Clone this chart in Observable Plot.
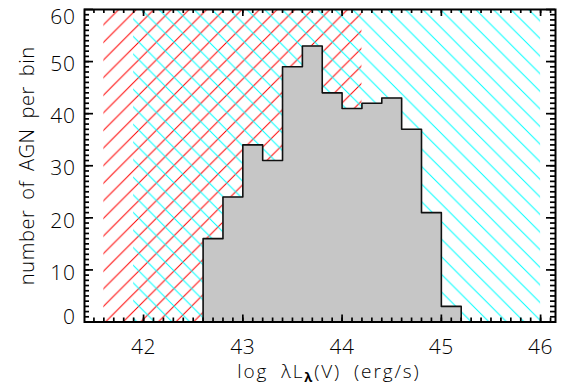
<!DOCTYPE html>
<html><head><meta charset="utf-8">
<script src="https://cdn.jsdelivr.net/npm/d3@7"></script>
<script src="https://cdn.jsdelivr.net/npm/@observablehq/plot@0.6"></script>
<style>html,body{margin:0;padding:0;background:#fff} svg{display:block}</style>
</head><body><div id="chart"></div>
<script>
// ---- data ----
const binStart = [42.6, 42.8, 43.0, 43.2, 43.4, 43.6, 43.8, 44.0, 44.2, 44.4, 44.6, 44.8, 45.0];
const binEnd   = [42.8, 43.0, 43.2, 43.4, 43.6, 43.8, 44.0, 44.2, 44.4, 44.6, 44.8, 45.0, 45.2];
const counts   = [16, 24, 34, 31, 49, 53, 44, 41, 42, 43, 37, 21, 3];
const redRange  = [41.6, 44.2];   // red "/" hatched band
const cyanRange = [41.9, 46.0];   // cyan "\" hatched band
const xTickLabels = [42, 43, 44, 45, 46];
const yTickLabels = [0, 10, 20, 30, 40, 50, 60];
const xMinorTicks = d3.range(415, 462).map(d => d / 10);
const yMinorTicks = d3.range(1, 60);
const xLabelParts = ["log λL", "λ", "(V) (erg/s)"];
const yLabel = "number of AGN per bin";

// ---- layout ----
const W = 563, H = 388, mL = 84, mR = 8, mT = 9, mB = 66.5;
const fh = H - mT - mB, fw = W - mL - mR;
const font = "'Open Sans', 'DejaVu Sans', sans-serif";

const bins = binStart.map((s, i) => ({x1: s, x2: binEnd[i], n: counts[i]}));
const outline = [{x: binStart[0], y: 0}];
bins.forEach(b => { outline.push({x: b.x1, y: b.n}, {x: b.x2, y: b.n}); });
outline.push({x: binEnd[binEnd.length - 1], y: 0});

const tickStroke = {stroke: "#000", strokeWidth: 1.7};
const txt = {fontFamily: font, fontSize: 21, fontWeight: 300, fill: "#000"};

const svg = Plot.plot({
  width: W, height: H,
  marginLeft: mL, marginRight: mR, marginTop: mT, marginBottom: mB,
  x: {domain: [41.405, 46.15], axis: null},
  y: {domain: [0, 60], axis: null},
  style: {background: "#fff", overflow: "visible", letterSpacing: "0.6px", wordSpacing: "4px"},
  marks: [
    Plot.rect([{a: redRange[0], b: redRange[1]}], {x1: "a", x2: "b", y1: 0, y2: 60, fill: "url(#hatchRed)"}),
    Plot.rect([{a: cyanRange[0], b: cyanRange[1]}], {x1: "a", x2: "b", y1: 0, y2: 60, fill: "url(#hatchCyan)"}),
    Plot.area(outline, {x1: "x", y1: 0, y2: "y", fill: "#c6c6c6"}),
    Plot.line(outline, {x: "x", y: "y", stroke: "#111", strokeWidth: 1.6}),
    // ticks (inward, all four sides)
    Plot.tickX(xMinorTicks, {x: d => d, insetTop: fh - 4, ...tickStroke}),
    Plot.tickX(xMinorTicks, {x: d => d, insetBottom: fh - 4, ...tickStroke}),
    Plot.tickX(xTickLabels, {x: d => d, insetTop: fh - 7, ...tickStroke}),
    Plot.tickX(xTickLabels, {x: d => d, insetBottom: fh - 7, ...tickStroke}),
    Plot.tickY(yMinorTicks, {y: d => d, insetRight: fw - 5, ...tickStroke}),
    Plot.tickY(yMinorTicks, {y: d => d, insetLeft: fw - 5, ...tickStroke}),
    Plot.tickY(yTickLabels, {y: d => d, insetRight: fw - 9, ...tickStroke}),
    Plot.tickY(yTickLabels, {y: d => d, insetLeft: fw - 9, ...tickStroke}),
    Plot.frame({stroke: "#000", strokeWidth: 2}),
    // tick labels
    Plot.text(xTickLabels, {x: d => d, frameAnchor: "bottom", lineAnchor: "top", dy: 17, text: d => String(d), ...txt}),
    Plot.text(yTickLabels.filter((d, i) => i > 0 && i < yTickLabels.length - 1), {y: d => d, frameAnchor: "left", textAnchor: "end", dx: -9, dy: 3, text: d => String(d), ...txt}),
    Plot.text(yTickLabels.slice(0, 1), {y: d => d, frameAnchor: "left", textAnchor: "end", dx: -9, dy: -5, text: d => String(d), ...txt}),
    Plot.text(yTickLabels.slice(-1), {y: d => d, frameAnchor: "left", textAnchor: "end", dx: -9, dy: 8, text: d => String(d), ...txt}),
    // axis titles
    Plot.text([xLabelParts.join("")], {frameAnchor: "bottom", lineAnchor: "bottom", textAnchor: "middle", dy: 56, dx: 9, text: d => d, ...txt, fontSize: 19}),
    Plot.text([yLabel], {frameAnchor: "left", rotate: -90, lineAnchor: "bottom", textAnchor: "middle", dx: -50.5, text: d => d, ...txt, fontSize: 20})
  ]
});

// hatch patterns
const S = 17.6;
const defs = d3.select(svg).insert("defs", ":first-child");
function hatch(id, color, d, shift) {
  const p = defs.append("pattern").attr("id", id)
    .attr("patternUnits", "userSpaceOnUse").attr("width", S).attr("height", S)
    .attr("patternTransform", `translate(${shift},0)`);
  p.append("path").attr("d", d).attr("stroke", color).attr("stroke-width", 1).attr("fill", "none");
}
hatch("hatchRed", "#ff0000", `M-2,2L2,-2M0,${S}L${S},0M${S-2},${S+2}L${S+2},${S-2}`, 5);
hatch("hatchCyan", "#00ffff", `M-2,${S-2}L2,${S+2}M0,0L${S},${S}M${S-2},-2L${S+2},2`, 8.7);

// subscript lambda in x label
const ns = "http://www.w3.org/2000/svg";
svg.querySelectorAll("text").forEach(t => {
  if (t.textContent === xLabelParts.join("")) {
    t.textContent = "";
    t.style.letterSpacing = "1.9px";
    t.style.wordSpacing = "6px";
    const a = document.createElementNS(ns, "tspan"); a.textContent = xLabelParts[0];
    const b = document.createElementNS(ns, "tspan"); b.textContent = xLabelParts[1];
    b.setAttribute("font-size", "13"); b.setAttribute("dy", "4"); b.setAttribute("font-weight", "bold");
    const c = document.createElementNS(ns, "tspan"); c.textContent = xLabelParts[2];
    c.setAttribute("dy", "-4");
    t.append(a, b, c);
  }
});

document.getElementById("chart").appendChild(svg);
</script>
</body></html>
